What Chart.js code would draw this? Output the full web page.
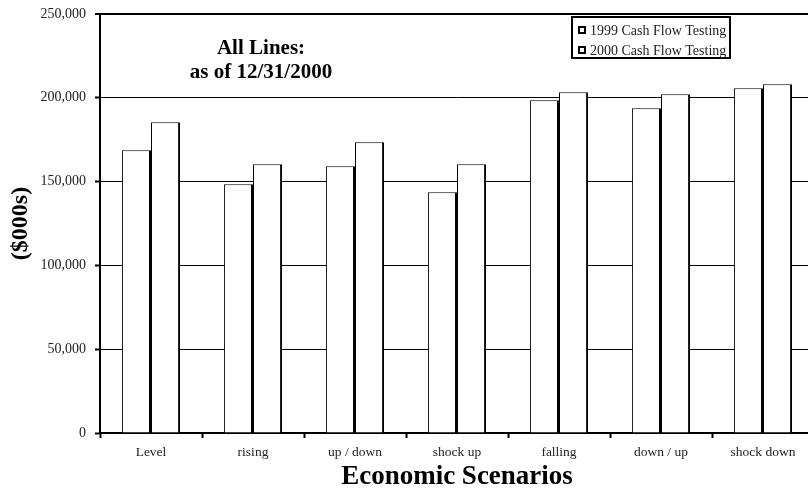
<!DOCTYPE html>
<html>
<head>
<meta charset="utf-8">
<script src="https://cdn.jsdelivr.net/npm/chart.js@4/dist/chart.umd.min.js"></script>
<style>
  html, body { margin: 0; padding: 0; background: #fff; overflow: hidden; }
  canvas { display: block; }
</style>
</head>
<body>
<canvas id="chart" width="814" height="493"></canvas>
<script>
// Cash flow testing results by economic scenario ($000s)
const scenarios = ['Level', 'rising', 'up / down', 'shock up', 'falling', 'down / up', 'shock down'];
const cft1999 = [168700, 148400, 159100, 143600, 198500, 193700, 205700];
const cft2000 = [185400, 160300, 173500, 160300, 203300, 202100, 208100];
const yTickValues = [0, 50000, 100000, 150000, 200000, 250000];
const seriesNames = ['1999 Cash Flow Testing', '2000 Cash Flow Testing'];
const headline = ['All Lines:', 'as of 12/31/2000'];

const SERIF = '"Liberation Serif", "Times New Roman", Times, serif';

// Bold two-line caption in the upper left of the plot
const headlinePlugin = {
  id: 'headline',
  afterDatasetsDraw(chart) {
    const { ctx, chartArea } = chart;
    ctx.save();
    ctx.fillStyle = '#000';
    ctx.font = 'bold 21px ' + SERIF;
    ctx.textAlign = 'center';
    ctx.textBaseline = 'middle';
    const cx = chartArea.left + 161;
    ctx.fillText(headline[0], cx, chartArea.top + 35);
    ctx.fillText(headline[1], cx, chartArea.top + 59);
    ctx.restore();
  }
};

// Boxed legend with small square markers
const boxedLegend = {
  id: 'boxedLegend',
  afterDatasetsDraw(chart) {
    const { ctx, chartArea } = chart;
    const w = 158, h = 41;
    const x = chartArea.right - 84 - w;
    const y = chartArea.top + 3;
    ctx.save();
    ctx.fillStyle = '#fff';
    ctx.fillRect(x, y, w, h);
    ctx.strokeStyle = '#000';
    ctx.lineWidth = 2;
    ctx.strokeRect(x, y, w, h);
    ctx.font = '14px ' + SERIF;
    ctx.textBaseline = 'middle';
    ctx.textAlign = 'left';
    chart.data.datasets.forEach((ds, i) => {
      const cy = y + 13 + i * 20;
      ctx.fillStyle = '#fff';
      ctx.fillRect(x + 7, cy - 3, 6, 6);
      ctx.lineWidth = 2;
      ctx.strokeStyle = '#000';
      ctx.strokeRect(x + 7, cy - 3, 6, 6);
      ctx.fillStyle = '#222';
      ctx.fillText(ds.label, x + 18, cy + 1);
    });
    ctx.restore();
  }
};

const barBorder = { top: 1, left: 1, right: 2, bottom: 0 };

new Chart(document.getElementById('chart'), {
  type: 'bar',
  data: {
    labels: scenarios,
    datasets: [
      {
        label: seriesNames[0],
        data: cft1999,
        backgroundColor: '#fff',
        borderColor: '#000',
        borderWidth: barBorder,
        borderSkipped: false
      },
      {
        label: seriesNames[1],
        data: cft2000,
        backgroundColor: '#fff',
        borderColor: '#000',
        borderWidth: barBorder,
        borderSkipped: false
      }
    ]
  },
  options: {
    responsive: false,
    animation: false,
    devicePixelRatio: 1,
    layout: { padding: { top: 14, left: 0, right: 0, bottom: 0 } },
    datasets: {
      bar: { categoryPercentage: 0.57, barPercentage: 1.0 }
    },
    plugins: {
      legend: { display: false },
      tooltip: { enabled: false },
      title: { display: false }
    },
    scales: {
      x: {
        afterFit(scale) { scale.height = 60; },
        grid: {
          display: true,
          drawOnChartArea: false,
          offset: true,
          tickLength: 5,
          tickWidth: 2,
          tickColor: '#000'
        },
        border: { display: true, width: 2, color: '#000' },
        ticks: {
          color: '#222',
          padding: 6,
          maxRotation: 0,
          autoSkip: false,
          font: { family: SERIF, size: 13.5 }
        },
        title: {
          display: true,
          text: 'Economic Scenarios',
          color: '#000',
          font: { family: SERIF, size: 27, weight: 'bold' },
          padding: { top: 0, bottom: 0 }
        }
      },
      y: {
        min: 0,
        max: 250000,
        afterFit(scale) { scale.width = 100; },
        afterBuildTicks(scale) {
          scale.ticks = yTickValues.map(v => ({ value: v }));
        },
        grid: {
          color: '#000',
          lineWidth: (c) => (c.tick && c.tick.value === 250000 ? 2 : 1),
          tickLength: 5,
          tickWidth: 2,
          tickColor: '#000'
        },
        border: { display: true, width: 2, color: '#000' },
        ticks: {
          color: '#222',
          padding: 9,
          font: { family: SERIF, size: 14, lineHeight: 0.7 },
          callback: (v) => Number(v).toLocaleString('en-US')
        },
        title: {
          display: true,
          text: '($000s)',
          color: '#000',
          font: { family: SERIF, size: 24, weight: 'bold' },
          padding: { top: 6, bottom: 0 }
        }
      }
    }
  },
  plugins: [headlinePlugin, boxedLegend]
});
</script>
</body>
</html>
